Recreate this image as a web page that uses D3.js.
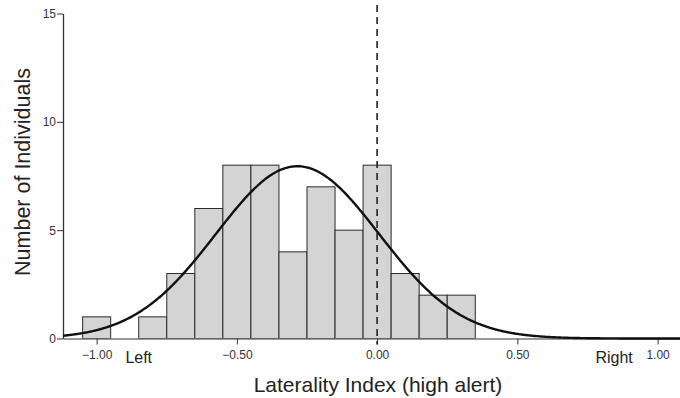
<!DOCTYPE html>
<html>
<head>
<meta charset="utf-8">
<script src="https://cdn.jsdelivr.net/npm/d3@7/dist/d3.min.js"></script>
<style>
  html, body { margin: 0; padding: 0; background: #fff; }
  svg { display: block; font-family: "Liberation Sans", Arial, sans-serif; }
</style>
</head>
<body>
<svg id="chart" width="680" height="398"></svg>
<script>
// Histogram bins: centre of each 0.1-wide bin and its count
const binCenters = [-1.0, -0.9, -0.8, -0.7, -0.6, -0.5, -0.4, -0.3, -0.2, -0.1, 0.0, 0.1, 0.2, 0.3];
const binCounts  = [1, 0, 1, 3, 6, 8, 8, 4, 7, 5, 8, 3, 2, 2];
const binWidth = 0.1;

// Fitted normal curve parameters
const fitMean = -0.284;
const fitSD = 0.291;
const fitN = 58;

// Axis ticks
const xTicks = [-1.0, -0.5, 0.0, 0.5, 1.0];
const yTicks = [0, 5, 10, 15];
const sideLabels = [{ text: "Left", at: -0.85 }, { text: "Right", at: 0.845 }];
const referenceLine = 0.0;

const svg = d3.select("#chart");

const x = d3.scaleLinear().domain([-1.12, 1.08]).range([63, 680]);
const y = d3.scaleLinear().domain([0, 15]).range([338.5, 13.5]);

// Bars
svg.append("g")
  .selectAll("rect")
  .data(binCenters.map((c, i) => ({ c, n: binCounts[i] })).filter(d => d.n > 0))
  .join("rect")
  .attr("x", d => x(d.c - binWidth / 2))
  .attr("y", d => y(d.n))
  .attr("width", d => x(d.c + binWidth / 2) - x(d.c - binWidth / 2))
  .attr("height", d => y(0) - y(d.n))
  .attr("fill", "#d4d4d4")
  .attr("stroke", "#2a2a2a")
  .attr("stroke-width", 1);

// X axis
const xAxis = svg.append("g")
  .attr("transform", `translate(0,${y(0)})`)
  .call(d3.axisBottom(x).tickValues(xTicks).tickFormat(d3.format(".2f")).tickSize(6).tickSizeOuter(0));
xAxis.select(".domain").attr("stroke", "#777").attr("stroke-width", 1.3);
xAxis.selectAll(".tick line").attr("stroke", "#333");
xAxis.selectAll(".tick text")
  .attr("font-size", 12).attr("fill", "#333").attr("dy", null).attr("y", 20)
  .attr("font-family", "Liberation Sans, Arial, sans-serif");

// Y axis
const yAxis = svg.append("g")
  .attr("transform", `translate(${x.range()[0]},0)`)
  .call(d3.axisLeft(y).tickValues(yTicks).tickFormat(d3.format("d")).tickSize(6).tickSizeOuter(0));
yAxis.select(".domain").attr("stroke", "#333").attr("stroke-width", 1.3);
yAxis.selectAll(".tick line").attr("stroke", "#333");
yAxis.selectAll(".tick text")
  .attr("font-size", 12).attr("fill", "#333").attr("x", -7)
  .attr("font-family", "Liberation Sans, Arial, sans-serif");

// Normal curve
const density = v => fitN * binWidth / (fitSD * Math.sqrt(2 * Math.PI)) *
  Math.exp(-0.5 * Math.pow((v - fitMean) / fitSD, 2));
const curveXs = d3.range(x.domain()[0], x.domain()[1] + 1e-9, 0.005);
svg.append("path")
  .datum(curveXs)
  .attr("fill", "none")
  .attr("stroke", "#111")
  .attr("stroke-width", 2.4)
  .attr("d", d3.line().x(v => x(v)).y(v => y(density(v))).curve(d3.curveBasis));

// Dashed reference line at zero
svg.append("line")
  .attr("x1", x(referenceLine)).attr("x2", x(referenceLine))
  .attr("y1", 5).attr("y2", y(0) + 6)
  .attr("stroke", "#222").attr("stroke-width", 1.6)
  .attr("stroke-dasharray", "7,5");

// Side labels
svg.append("g")
  .selectAll("text")
  .data(sideLabels)
  .join("text")
  .attr("x", d => x(d.at))
  .attr("y", y(0) + 24)
  .attr("text-anchor", "middle")
  .attr("font-size", 16)
  .attr("fill", "#222")
  .text(d => d.text);

// Axis titles
svg.append("text")
  .attr("x", 378).attr("y", 392)
  .attr("text-anchor", "middle")
  .attr("font-size", 21)
  .attr("fill", "#222")
  .text("Laterality Index (high alert)");

svg.append("text")
  .attr("transform", "translate(30,172) rotate(-90)")
  .attr("text-anchor", "middle")
  .attr("font-size", 21.5)
  .attr("fill", "#222")
  .text("Number of Individuals");
</script>
</body>
</html>
